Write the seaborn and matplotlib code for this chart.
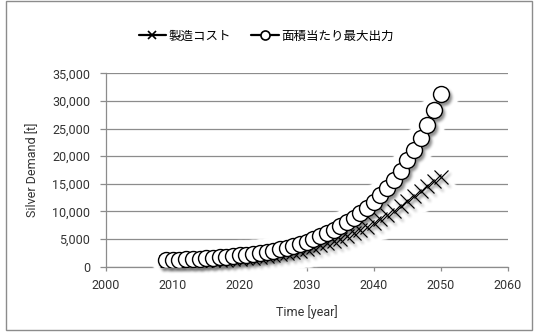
import numpy as np
import pandas as pd
import matplotlib
matplotlib.use("Agg")
import matplotlib.pyplot as plt
import seaborn as sns
from matplotlib.lines import Line2D
from matplotlib.patches import Rectangle
from matplotlib.ticker import FuncFormatter

# ---- data -------------------------------------------------------------
years = list(range(2009, 2051))

# 製造コスト scenario [t]
cost_demand = [
    870, 900, 930, 970, 1010, 1050, 1100, 1150, 1210, 1270,
    1340, 1430, 1530, 1640, 1770, 1910, 2070, 2250, 2450, 2670,
    2920, 3200, 3500, 3850, 4250, 4650, 5100, 5550, 6050, 6600,
    7200, 7850, 8550, 9300, 10100, 10950, 11850, 12750, 13650, 14550,
    15450, 16300,
]

# 面積当たり最大出力 scenario [t]
output_demand = [
    1180, 1230, 1280, 1340, 1400, 1470, 1550, 1640, 1740, 1840,
    1950, 2070, 2200, 2340, 2500, 2680, 2900, 3150, 3450, 3780,
    4150, 4550, 5000, 5500, 6050, 6650, 7300, 8000, 8800, 9700,
    10600, 11700, 12900, 14200, 15700, 17400, 19300, 21100, 23200, 25700,
    28300, 31200,
]

series_labels = ["製造コスト", "面積当たり最大出力"]
x_ticks = [2000, 2010, 2020, 2030, 2040, 2050, 2060]
y_ticks = [0, 5000, 10000, 15000, 20000, 25000, 30000, 35000]

df = pd.DataFrame({"year": years, "cost": cost_demand, "output": output_demand})

# ---- raster effects (soft drop shadow + white halo) --------------------
PAD = 16


def _blur(a, sigma):
    r = int(3 * sigma) + 1
    x = np.arange(-r, r + 1)
    k = np.exp(-0.5 * (x / sigma) ** 2)
    k /= k.sum()
    a = np.apply_along_axis(np.convolve, 1, a, k, mode="same")
    a = np.apply_along_axis(np.convolve, 0, a, k, mode="same")
    return a


def _shift(a, dx, dy):
    out = np.zeros_like(a)
    h, w = a.shape
    out[dy:, dx:] = a[:h - dy, :w - dx]
    return out


def _dilate(a, r):
    h, w = a.shape
    p = np.pad(a, r)
    out = a.copy()
    for i in range(-r, r + 1):
        for j in range(-r, r + 1):
            if i * i + j * j <= r * r:
                out = np.maximum(out, p[r + i:r + i + h, r + j:r + j + w])
    return out


def shadow_filter(im, dpi):
    big = np.pad(im, ((PAD, PAD), (PAD, PAD), (0, 0)))
    a = big[..., 3]
    sa = _shift(_blur(a, 1.4), 2, 3) * 0.45
    out_a = a + sa * (1 - a)
    out = np.zeros_like(big)
    safe = np.where(out_a > 0, out_a, 1.0)
    out[..., :3] = big[..., :3] * (a / safe)[..., None]
    out[..., 3] = out_a
    return out, -PAD, -PAD


def halo_filter(im, dpi):
    big = np.pad(im, ((PAD, PAD), (PAD, PAD), (0, 0)))
    a = big[..., 3]
    m = np.maximum(a, _shift(a, 2, 4))
    m = _blur(_dilate(m, 6), 1.0)
    out = np.ones_like(big)
    out[..., 3] = np.clip(m * 1.3, 0, 1)
    return out, -PAD, -PAD


# ---- figure -----------------------------------------------------------
sns.set_theme(style="ticks")
plt.rcParams["font.family"] = ["Roboto", "Noto Sans CJK JP", "DejaVu Sans"]

GRID = "#8c8c8c"
TEXT = "#333333"

fig = plt.figure(figsize=(5.38, 3.35), dpi=100)
ax = fig.add_axes([0.1965, 0.2039, 0.7472, 0.5773])

styles = {
    "cost": dict(marker="x", markersize=10, markeredgewidth=0.85,
                 markeredgecolor="black", color="black", linewidth=0),
    "output": dict(marker="o", markersize=11.5, markeredgewidth=1.0,
                   markeredgecolor="black", markerfacecolor="white",
                   color="black", linewidth=0),
}

# white halos behind both series
for col in ["cost", "output"]:
    sns.lineplot(data=df, x="year", y=col, ax=ax, legend=False,
                 zorder=2.8, **styles[col])
    ax.lines[-1].set_agg_filter(halo_filter)

# the series themselves, with a soft drop shadow
for col, z in [("cost", 3.0), ("output", 3.1)]:
    sns.lineplot(data=df, x="year", y=col, ax=ax, legend=False,
                 zorder=z, **styles[col])
    ax.lines[-1].set_agg_filter(shadow_filter)

ax.set_xlim(2000, 2060)
ax.set_ylim(0, 35000)
ax.set_xticks(x_ticks)
ax.set_yticks(y_ticks)
ax.yaxis.set_major_formatter(FuncFormatter(lambda v, p: f"{int(v):,}"))

ax.set_axisbelow(True)
ax.yaxis.grid(True, color=GRID, linewidth=0.9)
ax.xaxis.grid(False)
for side in ["top", "right"]:
    ax.spines[side].set_visible(False)
for side in ["left", "bottom"]:
    ax.spines[side].set_color(GRID)
    ax.spines[side].set_linewidth(0.9)

ax.tick_params(axis="y", direction="out", length=4.3, width=0.9, color=GRID,
               labelsize=9, labelcolor=TEXT, pad=7)
ax.tick_params(axis="x", direction="out", length=3, width=0.9, color=GRID,
               labelsize=9, labelcolor=TEXT, pad=6)

ax.set_xlabel("Time [year]", fontsize=9, color=TEXT, labelpad=9)
ax.set_ylabel("Silver Demand [t]", fontsize=9, color=TEXT, labelpad=9)

handles = [
    Line2D([], [], color="black", lw=1.6, marker="x", markersize=6,
           markeredgewidth=1.2),
    Line2D([], [], color="black", lw=1.6, marker="o", markersize=6.5,
           markeredgewidth=1.2, markerfacecolor="white"),
]
fig.legend(handles, series_labels, loc="center", ncol=2, frameon=False,
           bbox_to_anchor=(266 / 538, 1 - 36 / 335), fontsize=9,
           handlelength=2.2, handletextpad=0.2, columnspacing=1.6,
           labelcolor="black")

# chart-area frame
fig.patches.append(Rectangle((6 / 538, 5 / 335), 526 / 538, 329 / 335,
                             transform=fig.transFigure, fill=False,
                             edgecolor=GRID, linewidth=1.0))

fig.savefig("out.png", dpi=100)
